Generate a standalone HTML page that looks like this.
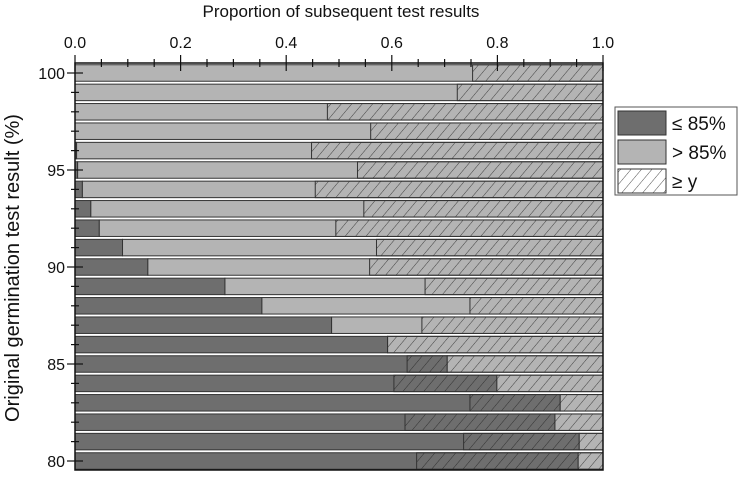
<!DOCTYPE html>
<html><head><meta charset="utf-8"><style>
body{margin:0;background:#fff;font-family:"Liberation Sans",sans-serif}
</style></head><body>
<svg id="chart" width="739" height="473" xmlns="http://www.w3.org/2000/svg" font-family="Liberation Sans, sans-serif">
<defs>
<pattern id="hatch" patternUnits="userSpaceOnUse" width="8" height="8" patternTransform="rotate(40)">
<line x1="0" y1="0" x2="0" y2="8" stroke="#222" stroke-width="0.8"/>
</pattern>
</defs>
<g id="plot"></g>
</svg>
<script>
const categories=[100,99,98,97,96,95,94,93,92,91,90,89,88,87,86,85,84,83,82,81,80];
const lowShare=[0,0,0,0,0.003,0.005,0.014,0.030,0.046,0.090,0.138,0.284,0.354,0.486,0.592,0.705,0.799,0.919,0.909,0.955,0.953];
const hatchStart=[0.753,0.724,0.478,0.560,0.448,0.535,0.455,0.547,0.494,0.571,0.558,0.663,0.748,0.657,0.592,0.629,0.604,0.748,0.625,0.736,0.647];
const xTicks=[0,0.2,0.4,0.6,0.8,1.0];
const yLabels=[100,95,90,85,80];
const NS="http://www.w3.org/2000/svg";
const svg=document.getElementById('plot');
const X0=75,X1=603,Y0=63,Y1=470;
const xs=v=>X0+v*(X1-X0);
const ys=c=>73+(100-c)*19.4;
const BH=16.5;
function mk(t,a,parent){const e=document.createElementNS(NS,t);for(const k in a)e.setAttribute(k,a[k]);(parent||svg).appendChild(e);return e;}
categories.forEach((c,i)=>{
  const g=mk('g',{});
  
  
  const y=ys(c)-BH/2;
  const d=mk('rect',{x:xs(0),y:y,width:xs(lowShare[i])-xs(0),height:BH,fill:'#6e6e6e',stroke:'#333','stroke-width':1},g);
  
  
  const l=mk('rect',{x:xs(lowShare[i]),y:y,width:xs(1)-xs(lowShare[i]),height:BH,fill:'#b4b4b4',stroke:'#333','stroke-width':1},g);
  
  
  const h=mk('rect',{x:xs(hatchStart[i]),y:y,width:xs(1)-xs(hatchStart[i]),height:BH,fill:'url(#hatch)',stroke:'#333','stroke-width':1},g);
  
  
});
const fr=mk('rect',{x:X0,y:Y0,width:X1-X0,height:Y1-Y0,fill:'none',stroke:'#111','stroke-width':1.5});


for(let k=0;k<=20;k++){const v=k/20;const maj=k%4===0;
  mk('line',{x1:xs(v),x2:xs(v),y1:Y0-(maj?8:4),y2:Y0+(maj?8:4),stroke:'#111','stroke-width':1.2});}
xTicks.forEach(v=>{const t=mk('text',{x:xs(v),y:48,'text-anchor':'middle','font-size':16,fill:'#111'});t.textContent=v.toFixed(1);
  
  });
const xt=mk('text',{x:341,y:17,'text-anchor':'middle','font-size':17,fill:'#111'});xt.textContent='Proportion of subsequent test results';


categories.forEach(c=>{const maj=c%5===0;mk('line',{x1:X0-(maj?8:4),x2:X0+(maj?8:4),y1:ys(c),y2:ys(c),stroke:'#111','stroke-width':1.2});});
yLabels.forEach(c=>{const t=mk('text',{x:65,y:ys(c)+6,'text-anchor':'end','font-size':16,fill:'#111'});t.textContent=c;
  
  });
const yt=mk('text',{x:0,y:0,'text-anchor':'middle','font-size':20,fill:'#111',transform:'translate(19,268) rotate(-90)'});yt.textContent='Original germination test result (%)';


const lg=mk('g',{});


mk('rect',{x:615,y:107,width:122,height:88,fill:'#fff',stroke:'#555','stroke-width':1},lg);
const items=[['#6e6e6e','≤ 85%'],['#b4b4b4','> 85%'],['url(#hatch)','≥ y']];
items.forEach((it,i)=>{const y=111+i*29;
  const e=mk('g',{},lg);
  
  
  if(i===2)mk('rect',{x:618,y:y,width:48,height:24,fill:'#fff'},e);
  mk('rect',{x:618,y:y,width:48,height:24,fill:it[0],stroke:'#333','stroke-width':1},e);
  const t=mk('text',{x:672,y:y+19,'font-size':19,fill:'#111'},e);t.textContent=it[1];});
</script>
</body></html>
